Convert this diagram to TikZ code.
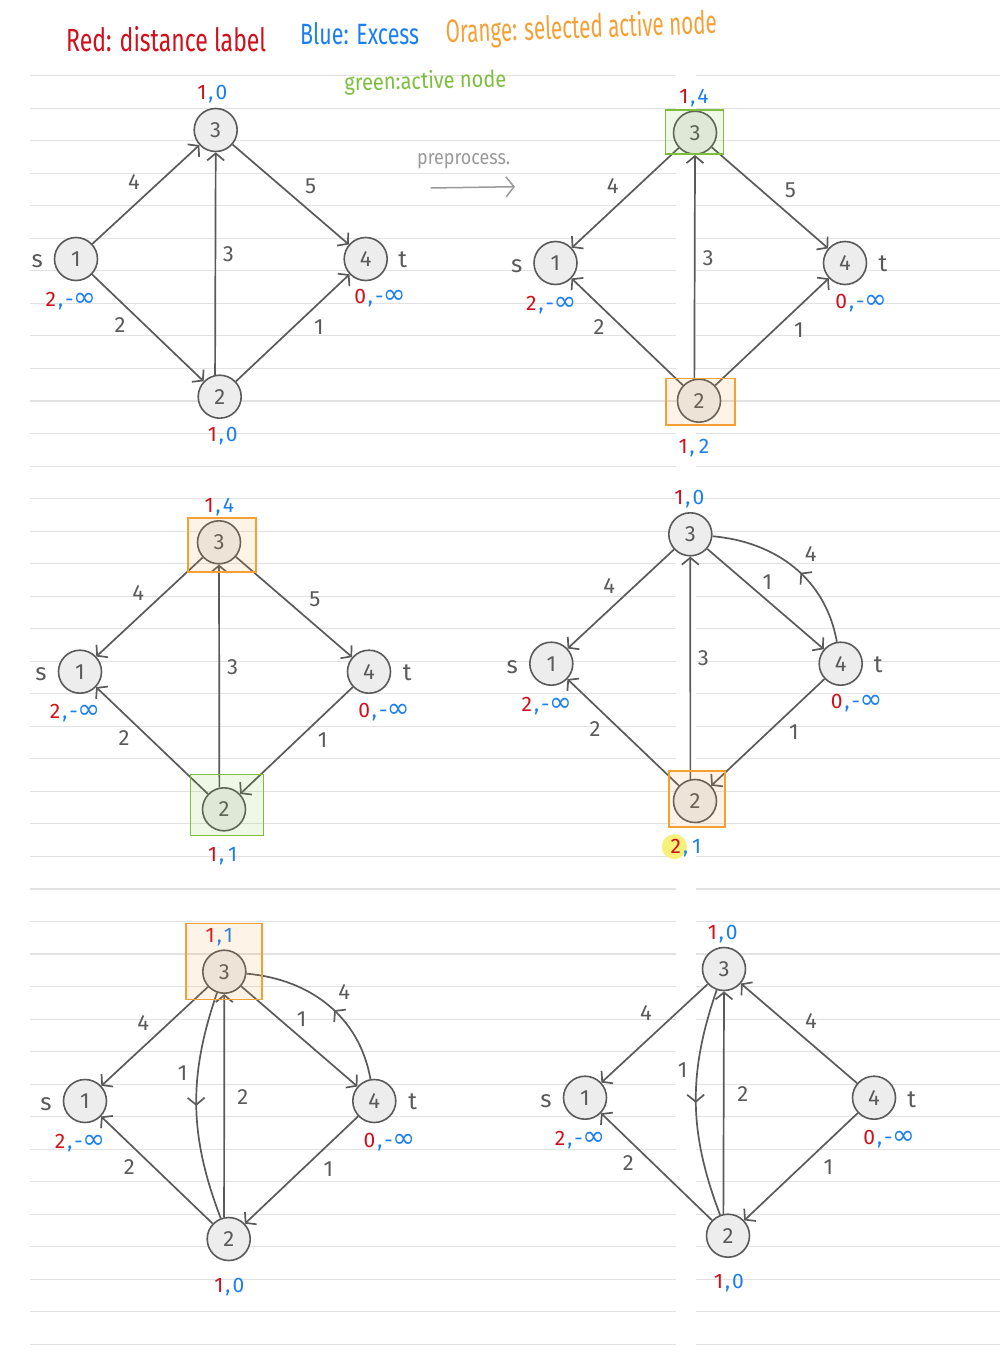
\documentclass[tikz,border=0pt]{standalone}
\usepackage{fontspec}
\setmainfont{Fira Sans}
\newfontfamily\symf{DejaVu Sans}
\usepackage{graphicx}
\usetikzlibrary{arrows.meta,decorations.markings,calc}
\definecolor{dred}{HTML}{D0101C}
\definecolor{dblue}{HTML}{1A7FF0}
\definecolor{dorange}{HTML}{F5A035}
\definecolor{dgreen}{HTML}{7DBE3C}
\definecolor{edgec}{HTML}{5A5A5A}
\definecolor{nodefill}{HTML}{EDEDED}
\definecolor{rulec}{HTML}{E2E2E2}
\definecolor{hlyellow}{HTML}{F7F07A}
\definecolor{prepc}{HTML}{9A9A9A}
\newcommand{\dlpair}[2]{\textcolor{dred}{#1}\textcolor{dblue}{\kern2pt,\kern2pt#2}}
\newcommand{\ninf}{-\kern-0.5pt\scalebox{1.3}{\symf ∞}}
\tikzset{
  vtx/.style={circle, draw=edgec, fill=nodefill, line width=1.6pt, minimum size=43pt, inner sep=0pt,
    font=\fontsize{22}{22}\selectfont, text=edgec},
  flow/.style={draw=edgec, line width=1.7pt, -{Straight Barb[length=7pt,width=17pt]}},
  flowc/.style={draw=edgec, line width=1.7pt},
  midarrow/.style={decoration={markings, mark=at position #1 with {\arrow{Straight Barb[length=7pt,width=17pt]}}}, postaction={decorate}},
  elab/.style={font=\fontsize{22}{22}\selectfont, text=edgec, inner sep=0pt},
  dlab/.style={font=\fontsize{21}{21}\selectfont, inner sep=0pt},
  stlab/.style={font=\fontsize{24}{24}\selectfont, text=edgec, inner sep=0pt},
  obox/.style={draw=dorange, line width=1.6pt, fill=dorange, fill opacity=0.12},
  gbox/.style={draw=dgreen, line width=1.6pt, fill=dgreen, fill opacity=0.12},
  rule/.style={draw=rulec, line width=1.1pt}
}
\begin{document}
\begin{tikzpicture}[x=1pt,y=1pt]
\useasboundingbox (0,0) rectangle (1000,-1356);
\fill[white] (0,0) rectangle (1000,-1356);
% ruled paper
\foreach \k in {0,...,39}{
  \pgfmathsetmacro{\yy}{-75.7-32.53*\k}
  \draw[rule] (30,\yy) -- (676,\yy);
  \draw[rule] (696,\yy) -- (1000,\yy);
}
% header
\node[anchor=base west, inner sep=0pt, text=dred] (hred) at (66,-51.7) {\resizebox{200pt}{25pt}{Red: distance label}};
\node[anchor=base west, inner sep=0pt, text=dblue] (hblue) at (300,-45) {\resizebox{119pt}{22pt}{Blue: Excess}};
\node[anchor=base west, inner sep=0pt, text=dorange, rotate=2] (horange) at (446,-43) {\resizebox{271pt}{25pt}{Orange: selected active node}};
\node[anchor=base west, inner sep=0pt, text=dgreen, rotate=1.5] (hgreen) at (344.5,-91) {\resizebox{162pt}{18pt}{green:active node}};
% preprocess
\node[anchor=base west, inner sep=0pt, text=prepc] (prep) at (417,-165) {\resizebox{93pt}{11pt}{preprocess.}};
\coordinate (pa) at (430.6,-188);
\coordinate (pb) at (515,-186.7);
\draw[draw=prepc, line width=1.5pt, -{Straight Barb[length=8pt,width=20pt]}] (pa) -- (pb);

% ---------- Panel 1 ----------
\node[vtx] (a3) at (215.7,-130) {3};
\node[vtx] (a1) at (76,-259) {1};
\node[vtx] (a4) at (365.7,-259) {4};
\node[vtx] (a2) at (219.7,-396.7) {2};
\draw[flow] (a1) -- (a3);
\draw[flow] (a3) -- (a4);
\draw[flow] (a2.102) -- (a3.south);
\draw[flow] (a1) -- (a2);
\draw[flow] (a2) -- (a4);
\node[elab] (a13) at (134,-181.7) {4};
\node[elab] (a34) at (310.7,-186.7) {5};
\node[elab] (a23) at (228.3,-254) {3};
\node[elab] (a12) at (120,-325) {2};
\node[elab] (a24) at (319,-327.3) {1};
\node[stlab] (as) at (37.3,-261) {s};
\node[stlab] (at) at (402.7,-259.3) {t};
\node[dlab] (a3d) at (212.3,-94) {\dlpair{1}{0}};
\node[dlab] (a1d) at (70.7,-300.7) {\dlpair{2}{\ninf}};
\node[dlab] (a4d) at (380,-298.3) {\dlpair{0}{\ninf}};
\node[dlab] (a2d) at (222.7,-436) {\dlpair{1}{0}};

% ---------- Panel 2 ----------
\node[vtx] (b3) at (695,-132.7) {3};
\node[vtx] (b1) at (555.5,-263) {1};
\node[vtx] (b4) at (845,-263) {4};
\node[vtx] (b2) at (699,-400.7) {2};
\draw[flow] (b3) -- (b1);
\draw[flow] (b3) -- (b4);
\draw[flow] (b2.102) -- (b3.south);
\draw[flow] (b2) -- (b1);
\draw[flow] (b2) -- (b4);
\node[elab] (b31) at (612.8,-186) {4};
\node[elab] (b34) at (790.4,-190.7) {5};
\node[elab] (b23) at (708,-258.3) {3};
\node[elab] (b21) at (599,-326.7) {2};
\node[elab] (b24) at (798.8,-330) {1};
\node[stlab] (bs) at (516.7,-266) {s};
\node[stlab] (bt) at (883,-263.3) {t};
\node[dlab] (b3d) at (693.9,-98.3) {\dlpair{1}{4}};
\node[dlab] (b1d) at (551.2,-305) {\dlpair{2}{\ninf}};
\node[dlab] (b4d) at (861.2,-303.3) {\dlpair{0}{\ninf}};
\node[dlab] (b2d) at (693.9,-448.3) {\dlpair{1}{\kern2pt2}};
\draw[gbox] (665.3,-110) rectangle (723.3,-154.3);
\draw[obox] (666,-378.3) rectangle (735,-425);

% ---------- Panel 3 ----------
\node[vtx] (c3) at (219,-542.3) {3};
\node[vtx] (c1) at (80,-671.7) {1};
\node[vtx] (c4) at (369,-671.7) {4};
\node[vtx] (c2) at (224,-809.3) {2};
\draw[flow] (c3) -- (c1);
\draw[flow] (c3) -- (c4);
\draw[flow] (c2.102) -- (c3.south);
\draw[flow] (c2) -- (c1);
\draw[flow] (c4) -- (c2);
\node[elab] (c31) at (138.3,-593.3) {4};
\node[elab] (c34) at (315,-599.3) {5};
\node[elab] (c23) at (232.7,-667.3) {3};
\node[elab] (c21) at (124,-737.7) {2};
\node[elab] (c42) at (322.7,-740) {1};
\node[stlab] (cs) at (41,-674.3) {s};
\node[stlab] (ct) at (407.3,-672.7) {t};
\node[dlab] (c3d) at (219.3,-507.3) {\dlpair{1}{4}};
\node[dlab] (c1d) at (75,-713.3) {\dlpair{2}{\ninf}};
\node[dlab] (c4d) at (384,-711.7) {\dlpair{0}{\ninf}};
\node[dlab] (c2d) at (222.7,-856.7) {\dlpair{1}{\kern2pt1}};
\draw[obox] (187.7,-517.7) rectangle (256,-571.7);
\draw[gbox] (190.3,-774.3) rectangle (263.3,-835.3);

% ---------- Panel 4 ----------
\node[vtx] (d3) at (690.3,-534.3) {3};
\node[vtx] (d1) at (551.3,-663.7) {1};
\node[vtx] (d4) at (840.7,-663.7) {4};
\node[vtx] (d2) at (695,-801) {2};
\draw[flow] (d3) -- (d1);
\draw[flow] (d3) -- (d4);
\draw[flowc, midarrow=0.45] (d4) to[out=100,in=-5] (d3);
\draw[flow] (d2.102) -- (d3.south);
\draw[flow] (d2) -- (d1);
\draw[flow] (d4) -- (d2);
\node[elab] (d31) at (609.3,-586) {4};
\node[elab] (d34) at (767.3,-581.7) {1};
\node[elab] (d43) at (810.7,-554) {4};
\node[elab] (d23) at (703.3,-658.3) {3};
\node[elab] (d21) at (595,-729.3) {2};
\node[elab] (d42) at (794,-731.7) {1};
\node[stlab] (ds) at (512.3,-666.7) {s};
\node[stlab] (dt) at (878.3,-664.3) {t};
\node[dlab] (d3d) at (689.3,-499.3) {\dlpair{1}{0}};
\node[dlab] (d1d) at (546.7,-705.7) {\dlpair{2}{\ninf}};
\node[dlab] (d4d) at (856.7,-703.3) {\dlpair{0}{\ninf}};
\fill[hlyellow] (674.3,-846.7) circle (12.5);
\node[dlab] (d2d) at (686,-848.3) {\dlpair{2}{\kern2pt1}};
\draw[obox] (668.7,-771) rectangle (725,-826.7);

% ---------- Panel 5 ----------
\node[vtx] (e3) at (224.3,-971.7) {3};
\node[vtx] (e1) at (85,-1101) {1};
\node[vtx] (e4) at (374.3,-1101) {4};
\node[vtx] (e2) at (228.7,-1239) {2};
\draw[flow] (e3) -- (e1);
\draw[flowc, midarrow=0.5] (e3) to[bend right=20] (e2);
\draw[flow] (e2.102) -- (e3.south);
\draw[flow] (e3) -- (e4);
\draw[flowc, midarrow=0.45] (e4) to[out=100,in=-5] (e3);
\draw[flow] (e2) -- (e1);
\draw[flow] (e4) -- (e2);
\node[elab] (e31) at (143.3,-1023.3) {4};
\node[elab] (e32) at (182.7,-1073.3) {1};
\node[elab] (e23) at (242.7,-1097.3) {2};
\node[elab] (e34) at (301.7,-1019.3) {1};
\node[elab] (e43) at (344.3,-991.7) {4};
\node[elab] (e21) at (129.3,-1166.7) {2};
\node[elab] (e42) at (328.3,-1169.3) {1};
\node[stlab] (es) at (46,-1104) {s};
\node[stlab] (et) at (412.7,-1101.7) {t};
\node[dlab] (e3d) at (219.3,-937.3) {\dlpair{1}{1}};
\node[dlab] (e1d) at (80,-1143.3) {\dlpair{2}{\ninf}};
\node[dlab] (e4d) at (389.3,-1141.7) {\dlpair{0}{\ninf}};
\node[dlab] (e2d) at (229.3,-1286.7) {\dlpair{1}{0}};
\draw[obox] (185.7,-923.3) rectangle (262,-999.3);

% ---------- Panel 6 ----------
\node[vtx] (f3) at (724,-969) {3};
\node[vtx] (f1) at (585,-1097.7) {1};
\node[vtx] (f4) at (874,-1097.7) {4};
\node[vtx] (f2) at (728,-1235.7) {2};
\draw[flow] (f3) -- (f1);
\draw[flowc, midarrow=0.5] (f3) to[bend right=20] (f2);
\draw[flow] (f2.102) -- (f3.south);
\draw[flow] (f4) -- (f3);
\draw[flow] (f2) -- (f1);
\draw[flow] (f4) -- (f2);
\node[elab] (f31) at (646,-1013.3) {4};
\node[elab] (f32) at (682.7,-1070) {1};
\node[elab] (f23) at (742.7,-1094) {2};
\node[elab] (f43) at (811,-1020.7) {4};
\node[elab] (f21) at (628.3,-1163.3) {2};
\node[elab] (f42) at (828.3,-1166.7) {1};
\node[stlab] (fs) at (546,-1100.7) {s};
\node[stlab] (ft) at (911.7,-1099.3) {t};
\node[dlab] (f3d) at (722.7,-934) {\dlpair{1}{0}};
\node[dlab] (f1d) at (580,-1140) {\dlpair{2}{\ninf}};
\node[dlab] (f4d) at (889,-1138.7) {\dlpair{0}{\ninf}};
\node[dlab] (f2d) at (729,-1283.3) {\dlpair{1}{0}};
\end{tikzpicture}
\end{document}
